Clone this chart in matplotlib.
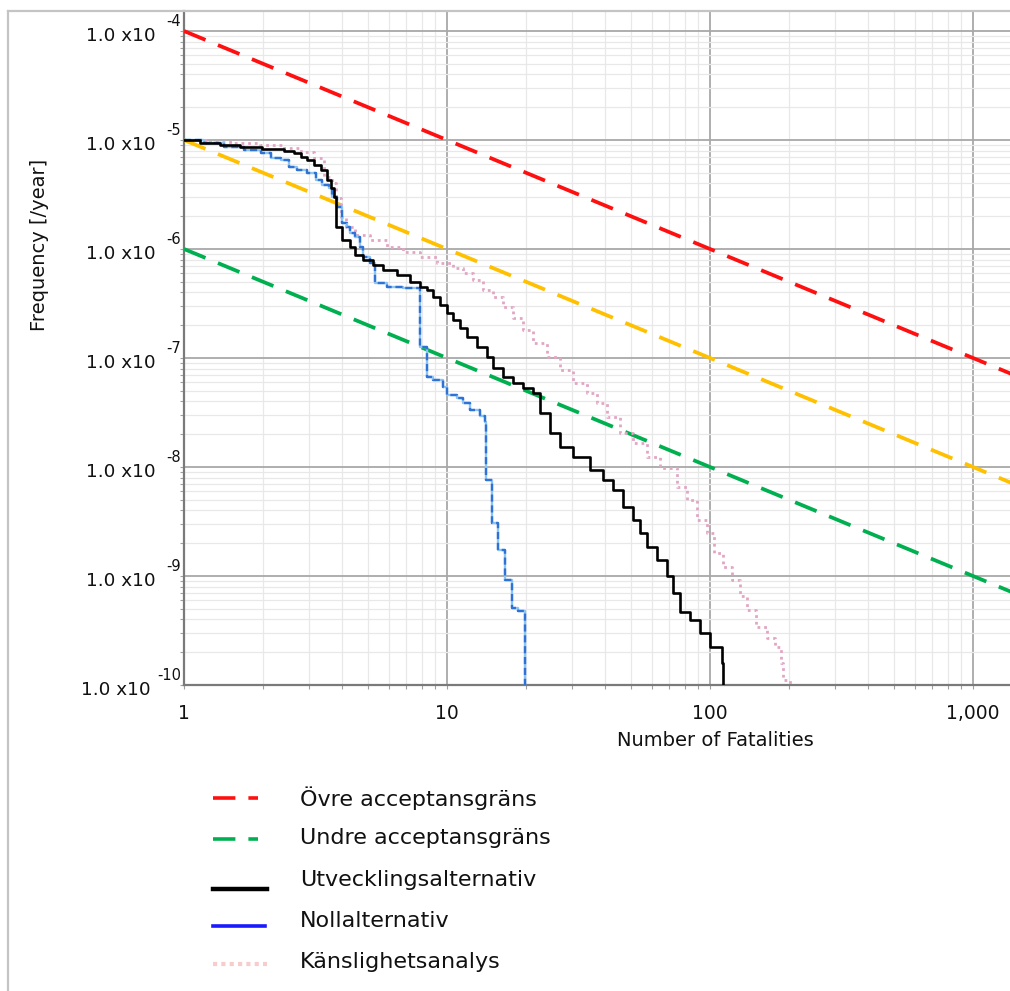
import matplotlib
matplotlib.use("Agg")
import matplotlib.pyplot as plt
from matplotlib.lines import Line2D
from matplotlib.transforms import blended_transform_factory
from matplotlib.ticker import LogLocator, NullFormatter, FixedLocator

# ---- FN-curve data: number of fatalities N and frequency F [1/year] of >= N ----
utv_N = [1.0, 1.15, 1.37, 1.63, 1.98, 2.40, 2.62, 2.78, 2.94, 3.12, 3.31, 3.50,
         3.61, 3.72, 3.77, 3.98, 4.28, 4.47, 4.79, 5.23, 5.71, 6.44, 7.23, 7.89,
         8.37, 8.85, 9.40, 9.97, 10.5, 11.2, 11.9, 13.0, 14.2, 15.0, 16.3, 17.8,
         19.5, 21.2, 22.6, 24.6, 26.9, 30.1, 35.0, 39.2, 42.8, 46.7, 51.0, 54.2,
         57.4, 62.7, 68.5, 72.3, 76.9, 83.9, 91.6, 100.0, 111.0, 112.0]
utv_F = [1.0e-5, 9.38e-6, 9.0e-6, 8.62e-6, 8.27e-6, 7.98e-6, 7.6e-6, 7.03e-6,
         6.56e-6, 5.90e-6, 5.31e-6, 4.30e-6, 3.63e-6, 3.02e-6, 1.60e-6, 1.21e-6,
         1.05e-6, 8.8e-7, 7.9e-7, 7.1e-7, 6.4e-7, 5.77e-7, 5.0e-7, 4.5e-7,
         4.2e-7, 3.65e-7, 3.06e-7, 2.59e-7, 2.23e-7, 1.88e-7, 1.57e-7, 1.27e-7,
         1.03e-7, 8.1e-8, 6.7e-8, 5.9e-8, 5.3e-8, 4.78e-8, 3.13e-8, 2.05e-8,
         1.54e-8, 1.24e-8, 9.4e-9, 7.6e-9, 6.15e-9, 4.32e-9, 3.27e-9, 2.48e-9,
         1.86e-9, 1.40e-9, 9.9e-10, 7.0e-10, 4.7e-10, 3.95e-10, 3.0e-10,
         2.25e-10, 1.59e-10, 3e-11]

noll_N = [1.0, 1.19, 1.42, 1.69, 1.96, 2.14, 2.33, 2.51, 2.69, 2.94, 3.17, 3.35,
          3.56, 3.65, 3.82, 3.98, 4.16, 4.28, 4.47, 4.67, 4.79, 5.10, 5.32, 5.90,
          6.81, 7.89, 8.37, 8.85, 9.66, 9.97, 10.9, 11.5, 12.2, 13.3, 13.95, 14.1,
          14.8, 15.6, 16.6, 17.6, 18.6, 19.8]
noll_F = [1.0e-5, 9.37e-6, 8.68e-6, 8.1e-6, 7.6e-6, 6.84e-6, 6.56e-6, 5.69e-6,
          5.31e-6, 4.98e-6, 4.30e-6, 3.87e-6, 3.63e-6, 3.02e-6, 2.45e-6, 1.73e-6,
          1.60e-6, 1.40e-6, 1.30e-6, 1.05e-6, 8.5e-7, 7.4e-7, 4.88e-7, 4.5e-7,
          4.38e-7, 1.26e-7, 6.7e-8, 6.3e-8, 5.45e-8, 4.58e-8, 4.3e-8, 3.87e-8,
          3.33e-8, 2.94e-8, 2.6e-8, 7.6e-9, 3.06e-9, 1.73e-9, 9.2e-10, 5.1e-10,
          4.8e-10, 3e-11]

kansl_N = [1.0, 1.26, 1.55, 1.94, 2.40, 2.78, 3.12, 3.41, 3.65, 3.77, 3.94, 4.13,
           4.47, 5.10, 5.90, 6.81, 7.89, 9.14, 10.5, 11.5, 12.6, 13.7, 15.0, 16.3,
           17.8, 19.5, 21.2, 23.9, 26.9, 30.1, 34.0, 37.1, 40.5, 45.5, 51.0, 57.4,
           64.6, 74.7, 81.5, 89.0, 97.0, 104.0, 112.0, 121.0, 130.0, 138.0, 150.0,
           164.0, 177.0, 187.0, 189.0, 201.0]
kansl_F = [1.0e-5, 9.68e-6, 9.37e-6, 9.0e-6, 8.45e-6, 7.82e-6, 6.84e-6, 4.61e-6,
           4.04e-6, 2.94e-6, 1.98e-6, 1.60e-6, 1.34e-6, 1.21e-6, 1.05e-6, 9.4e-7,
           8.5e-7, 7.4e-7, 6.7e-7, 6.0e-7, 5.2e-7, 4.2e-7, 3.65e-7, 2.96e-7,
           2.33e-7, 1.81e-7, 1.37e-7, 1.03e-7, 7.8e-8, 5.9e-8, 4.78e-8, 3.87e-8,
           2.9e-8, 2.05e-8, 1.66e-8, 1.24e-8, 9.8e-9, 6.6e-9, 4.98e-9, 3.27e-9,
           2.48e-9, 1.63e-9, 1.22e-9, 9.2e-10, 6.5e-10, 4.9e-10, 3.4e-10, 2.7e-10,
           2.25e-10, 1.59e-10, 1.11e-10, 3e-11]

# criterion lines F = C / N, given by their end points
limit_N = [1.0, 10000.0]
upper_F = [1e-4, 1e-8]      # Övre acceptansgräns
middle_F = [1e-5, 1e-9]
lower_F = [1e-6, 1e-10]     # Undre acceptansgräns

x_ticks = [1, 10, 100, 1000]
x_tick_labels = ["1", "10", "100", "1,000"]
y_exponents = [-10, -9, -8, -7, -6, -5, -4]

legend_labels = ["Övre acceptansgräns", "Undre acceptansgräns",
                 "Utvecklingsalternativ", "Nollalternativ", "Känslighetsanalys"]

# ---- layout ----
W, H = 1010, 991
fig = plt.figure(figsize=(W / 100, H / 100), dpi=100)
fig.patch.set_facecolor("white")
TXT = "#111111"


def fx(px):
    return px / W


def fy(py):
    return 1 - py / H


ax = fig.add_axes([fx(184), fy(685), fx(1010) - fx(184), fy(11) - fy(685)])
ax.set_xscale("log")
ax.set_yscale("log")
ax.set_xlim(1, 10 ** ((1010 - 184) / 263))
ax.set_ylim(1e-10, 10 ** (-10 + (685 - 11) / 109))

# grid
ax.xaxis.set_major_locator(FixedLocator(x_ticks))
ax.xaxis.set_minor_locator(LogLocator(base=10, subs=range(2, 10)))
ax.yaxis.set_major_locator(FixedLocator([10.0 ** e for e in y_exponents]))
ax.yaxis.set_minor_locator(LogLocator(base=10, subs=range(2, 10), numticks=20))
ax.xaxis.set_minor_formatter(NullFormatter())
ax.yaxis.set_minor_formatter(NullFormatter())
ax.grid(which="major", color="#a8a8a8", linewidth=1.3)
ax.grid(which="minor", color="#e8e8e8", linewidth=0.9)
ax.set_axisbelow(True)

for side in ("top", "right"):
    ax.spines[side].set_visible(False)
for side in ("left", "bottom"):
    ax.spines[side].set_color("#7a7a7a")
    ax.spines[side].set_linewidth(1.6)

ax.tick_params(which="both", direction="out", color="#a0a0a0", length=3, width=0.8)
ax.set_xticklabels(x_tick_labels, fontsize=13.5)
ax.tick_params(axis="x", which="major", pad=10.5, labelcolor=TXT)
ax.set_yticklabels([""] * len(y_exponents))

# criterion lines
ax.plot(limit_N, upper_F, color="#ff1010", lw=2.7, dashes=(6.2, 3.6), zorder=3)
ax.plot(limit_N, middle_F, color="#ffc000", lw=2.7, dashes=(6.2, 3.6), zorder=3)
ax.plot(limit_N, lower_F, color="#00b050", lw=2.7, dashes=(6.2, 3.6), zorder=3)

# FN curves
ax.step(kansl_N, kansl_F, where="post", color="#e2a6c4", lw=2.0,
        dashes=(1.0, 1.4), zorder=4)
ax.step(noll_N, noll_F, where="post", color="#8cc4f4", lw=1.7, zorder=4)
ax.step(noll_N, noll_F, where="post", color="#2f72d6", lw=1.7,
        dashes=(3.0, 1.6), zorder=4)
ax.step(utv_N, utv_F, where="post", color="black", lw=1.9, zorder=5)

# y tick labels of the form 1.0 x10^-k
tr = blended_transform_factory(fig.transFigure, ax.transData)
for e in y_exponents:
    yv = 10.0 ** e
    sup = f"{e}"
    ax.annotate(sup, (fx(181), yv), xycoords=tr, xytext=(0, 6.5),
                textcoords="offset points", ha="right", va="center",
                fontsize=10.5, color=TXT, annotation_clip=False)
    right = 156 if len(sup) == 2 else 151
    ax.annotate("1.0 x10", (fx(right), yv), xycoords=tr, xytext=(0, -3.6),
                textcoords="offset points", ha="right", va="center",
                fontsize=13.2, color=TXT, annotation_clip=False)

fig.text(fx(40), fy(245), "Frequency [/year]", rotation=90, ha="center",
         va="center", fontsize=14, color=TXT)
fig.text(fx(715), fy(741), "Number of Fatalities", ha="center", va="center",
         fontsize=14, color=TXT)

# outer frame
fig.add_artist(Line2D([fx(8), 1.0], [fy(11), fy(11)], color="#c4c4c4", lw=1.6))
fig.add_artist(Line2D([fx(8), fx(8)], [fy(11), 0.0], color="#c4c4c4", lw=1.6))

# legend
legend_styles = [
    dict(color="#ff1010", lw=2.6, dashes=(6.2, 3.6), x1=258, y=798),
    dict(color="#00b050", lw=2.6, dashes=(6.2, 3.6), x1=258, y=839),
    dict(color="black", lw=3.2, dashes=None, x1=267, y=889),
    dict(color="#1a1aff", lw=2.6, dashes=None, x1=265, y=926),
    dict(color="#f8cccc", lw=3.0, dashes=(1.0, 1.0), x1=267, y=964),
]
text_y = [798, 838, 880, 921, 962]
for lab, st, ty in zip(legend_labels, legend_styles, text_y):
    ln = Line2D([fx(213), fx(st["x1"])], [fy(st["y"]), fy(st["y"])],
                color=st["color"], lw=st["lw"])
    if st["dashes"] is not None:
        ln.set_dashes(st["dashes"])
    fig.add_artist(ln)
    fig.text(fx(300), fy(ty), lab, ha="left", va="center", fontsize=16,
             color=TXT)

fig.savefig("out.png", dpi=100)
